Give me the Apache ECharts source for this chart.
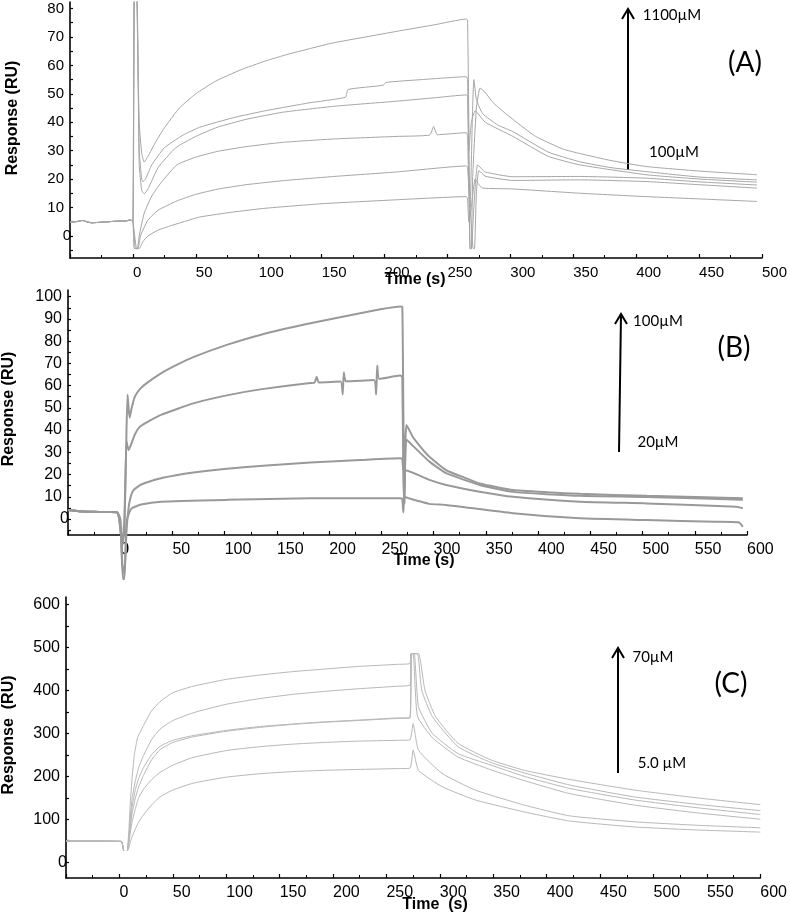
<!DOCTYPE html>
<html><head><meta charset="utf-8">
<script src="https://cdn.jsdelivr.net/npm/echarts@6/dist/echarts.min.js"></script>
<style>html,body{margin:0;padding:0;background:#fff}#c{width:790px;height:916px}</style>
</head><body><div id="c"></div>
<script>
// ---------- tick labels ----------
const yLabelsA = [0,10,20,30,40,50,60,70,80];
const yTicksA  = [-5,0,5,10,15,20,25,30,35,40,45,50,55,60,65,70,75,80];
const yLabelsB = [0,10,20,30,40,50,60,70,80,90,100];
const yTicksB  = [-5,0,5,10,15,20,25,30,35,40,45,50,55,60,65,70,75,80,85,90,95,100];
const yLabelsC = [0,100,200,300,400,500,600];
const yTicksC  = [0,50,100,150,200,250,300,350,400,450,500,550,600];
const xLabelsA = [0,50,100,150,200,250,300,350,400,450,500];
const xLabelsBC = [0,50,100,150,200,250,300,350,400,450,500,550,600];

// ---------- Panel A (100–1100 µM) ----------
const baseA = [[-50,4.9],[-45,5.0],[-40,5.4],[-37,5.0],[-33,4.6],[-25,4.8],[-15,5.1],[-5,5.3],[-2,5.6]];
const a1 = [[0,5],[1,90],[2.5,90],[5,40],[7,29],[9,26],[12,28],[18,33],[25,38],[37,45],[50,50],[66,54.5],[85,58.3],[105,61.5],[124,64],[158,67.8],[185,70],[210,72],[240,74.3],[265,76.3],[266,76],[267,40],[268,-4.5],[269,-4.5],[270,20],[273,45],[276,52],[280,50.5],[286,47],[295,43.5],[302,41],[320,35],[342,30.5],[355,29],[380,26.5],[408,24.4],[450,22.8],[496,21.5]];
const a2 = [[0,5],[1,90],[3,90],[5,30],[7,20],[8,19],[10,20],[15,25],[25,31],[40,35.5],[53,38.2],[80,41.6],[105,44],[140,46.8],[169,48.8],[171,51.5],[199,53],[201,54],[230,55],[265,56],[266,55],[267,25],[268,10],[270,45],[271,55],[273,48],[278,43],[290,39],[302,36.7],[330,29.5],[355,26.1],[380,24],[408,22.6],[450,20.7],[496,19.7]];
const a3 = [[0,5],[1.5,90],[3,90],[5,25],[7,16],[9,14.8],[12,16.5],[20,24],[34,31],[50,35],[67,38.2],[90,41],[119,43.5],[160,45.6],[210,47.4],[240,48.6],[265,49.6],[266,49],[267,30],[269,40],[272,44],[280,40],[302,35],[330,28],[355,25],[408,21.5],[450,20],[496,18.9]];
const a4 = [[0,5],[1,-4.5],[3.5,-4.5],[5,0],[9,8],[15,14],[22,18.5],[35,25],[50,27.7],[67,29.7],[90,31.4],[119,32.9],[160,34.1],[210,35],[236,35.5],[239,38.5],[242,35.6],[265,36.3],[266,35],[267,15],[268,-4.5],[269,-4.5],[271,10],[274,25],[280,22.5],[302,20.8],[355,20.9],[408,20.3],[450,19],[496,17.9]];
const a5 = [[0,5],[2,-4.5],[4,-4.5],[6,0],[9,3],[12,5.6],[20,9],[35,12.3],[50,14.6],[67,16.4],[90,18],[119,19.4],[160,20.9],[210,22.5],[265,24.6],[266,24],[268,10],[270.5,-4.5],[271.5,-4.5],[273,15],[275,23],[280,21],[302,19.5],[355,19.7],[408,19.1],[450,18],[496,16.8]];
const a6 = [[0,5],[3,-4.5],[5,-4.5],[8,-2],[12,0],[20,2],[29,3.4],[53,6.6],[80,8.4],[105,9.7],[150,11.3],[210,12.7],[265,13.8],[266,13],[267,5],[269,10],[272,20],[275,18],[278,16.8],[302,16.5],[355,15],[408,13.8],[450,13],[496,12.1]];

// ---------- Panel B (20–100 µM) ----------
const baseB = [[-50,4],[-45,3.8],[-40,3.5],[-30,3.3],[-20,3.2],[-10,3.1],[-3,3]];
const b1 = [[-1,0],[2,-12],[4,-5],[6,40],[7,56],[8,50],[9,45.5],[11,50],[14,55],[19,58.5],[25,61],[39,65.5],[55,69.5],[70,72.8],[102,78.3],[134,82.8],[182,88],[220,91.6],[249,94.3],[268,95.6],[270,95.5],[271,50],[272,7],[273,35],[274,42.3],[280,37],[290,31],[296,28],[312,22],[330,18.5],[344,16],[376,13],[410,12],[440,11.3],[504,10.4],[560,9.8],[596,9.3]];
const b2 = [[-1,0],[2,-10],[4,0],[6,35],[8,31],[10,33],[14,38],[19,41.6],[39,46.8],[70,52],[102,55.6],[134,58.3],[182,61.2],[186,61.3],[188,64],[190,61.4],[211,61.8],[213,56],[214,66],[216,61.9],[243,62.5],[245,56],[246,69],[248,63],[268,64.5],[270,64],[271,20],[272,7],[273,30],[274,35.6],[280,33],[296,25.8],[312,20.6],[344,15.3],[376,12.2],[440,10.4],[504,9.9],[596,8.6]];
const b3 = [[0,0],[2.5,-27],[4,-27],[6,-5],[8,5],[10,10],[12.7,13],[20,15.5],[39,18.3],[60,20.2],[70,20.9],[102,22.6],[140,24.1],[182,25.4],[230,26.5],[268,27.3],[270,27],[271,22],[272,22],[296,17.6],[312,15.3],[344,12.3],[376,10],[440,7.8],[504,7],[590,5.5],[596,4.8]];
const b4 = [[0,0],[2,-20],[4,-25],[6,-2],[8,2],[11,4.8],[20,6.5],[39,7.8],[102,8.6],[182,9.3],[268,9.3],[270,9],[271,3],[272,10],[275,9.5],[296,6.8],[312,6.3],[376,2.6],[440,0.3],[504,-0.5],[570,-1.2],[592,-1.5],[596,-3.5]];

// ---------- Panel C (5.0–70 µM) ----------
const baseC = [[-50,49],[-20,49],[0,48.5],[2,48],[3,40],[4,26],[5,null]];
const c1 = [[7.5,26],[9,80],[10,130],[12,200],[14,250],[17,290],[22.5,318],[30,352],[38,374],[50,395],[69,410],[100,426],[131,436],[162,444],[192,450],[223,456],[260,461],[272,463],[273,486],[280,486],[286,401],[296,339],[317,277],[348,238],[379,214],[421,193],[482,168],[540,150],[600,134]];
const c2 = [[7.5,26],[9,60],[10,100],[12,150],[15,190],[18,220],[22.5,248],[30,285],[38,310],[50,330],[69,348],[100,368],[131,381],[162,391],[192,398],[223,404],[260,410],[272,413],[273.5,486],[279,486],[283,401],[293,339],[317,269],[348,232],[379,208],[421,180],[482,152],[540,135],[600,120]];
const c3 = [[7.5,26],[9,55],[10,85],[12,130],[15,170],[18,195],[22.5,220],[30,250],[38,270],[50,284],[69,295],[100,307],[131,316],[162,322],[192,327],[223,331],[260,336],[272,337],[273.5,486],[276,486],[280,362],[293,300],[317,253],[348,226],[379,200],[421,172],[482,145],[540,127],[600,111]];
const c4 = [[7.5,26],[9,50],[10,75],[12,115],[15,150],[18,175],[22.5,202],[30,238],[38,262],[50,279],[69,292],[100,305],[131,314],[162,321],[192,326],[223,330],[260,335],[272,336],[273,486],[275,486],[279,340],[293,290],[317,245],[348,215],[379,190],[421,160],[482,133],[540,115],[600,100]];
const c5 = [[7.5,26],[9,45],[10,65],[12,95],[15,125],[18,150],[22.5,170],[30,192],[38,209],[50,226],[69,244],[100,260],[131,269],[162,275],[192,279],[223,282],[260,284],[272,285],[275,323],[280,261],[302,207],[333,168],[379,133],[421,108],[482,94],[540,86],[600,80]];
const c6 = [[7.5,26],[9,35],[10,45],[12,60],[15,78],[18,93],[22.5,110],[30,133],[38,152],[50,168],[69,184],[100,198],[131,206],[162,211],[192,214],[223,216],[260,218],[272,219],[275,261],[280,214],[302,176],[333,145],[379,117],[421,96],[482,82],[540,75],[600,70]];

// ---------- build ----------
const FONT = '"Liberation Sans", Arial, sans-serif';
const ANN = 'Lato, "Open Sans", sans-serif';
function xAx(idx, max, fs, labels){
  return {type:'value', gridIndex:idx, min:-50, max:max, interval:50,
    axisLine:{show:true,onZero:false,lineStyle:{color:'#000',width:1.6}},
    axisTick:{show:true,inside:true,length:4,lineStyle:{color:'#000',width:1.2}},
    minorTick:{show:true,splitNumber:2,length:3,lineStyle:{color:'#000',width:1}},
    splitLine:{show:false}, minorSplitLine:{show:false},
    axisLabel:{show:true, customValues:labels, align:'left', margin:7, color:'#000', fontFamily:FONT, fontSize:fs, hideOverlap:false}};
}
function yAx(idx, min, max, fs, labels, ticks){
  return {type:'value', gridIndex:idx, min:min, max:max,
    axisLine:{show:true,onZero:false,lineStyle:{color:'#000',width:1.6}},
    axisTick:{show:true,inside:true,length:3,customValues:ticks,lineStyle:{color:'#000',width:1.2}},
    splitLine:{show:false},
    axisLabel:{show:true, customValues:labels, margin:6, color:'#000', fontFamily:FONT, fontSize:fs,
      formatter:function(v){ return v===0 ? '{z|0}' : String(v); },
      rich:{z:{fontFamily:FONT,fontSize:fs,color:'#000',padding:[0,-7,0,0]}}}};
}
function ser(idx, data, color, width, clip){
  return {type:'line', xAxisIndex:idx, yAxisIndex:idx, data:data, showSymbol:false, symbol:'none',
    smooth:0.15, connectNulls:false, clip:clip, silent:true, animation:false,
    lineStyle:{color:color,width:width}};
}
const cA = '#a6a6a6', cB = '#999999', cC = '#b8b8b8';
const series = [];
[a1,a2,a3,a4,a5,a6].forEach(d=>series.push(ser(0, baseA.concat(d), cA, 1, true)));
[b1,b2,b3,b4].forEach(d=>series.push(ser(1, baseB.concat(d), cB, 2, false)));
[c1,c2,c3,c4,c5,c6].forEach(d=>series.push(ser(2, baseC.concat(d), cC, 1, true)));

function txt(x,y,text,size,font,weight,rot){
  return {type:'text', x:x, y:y, rotation:rot||0, silent:true,
    style:{text:text, fill:'#000', font:(weight||'normal')+' '+size+'px '+font, align:'center', verticalAlign:'middle'}};
}
function arrow(xb,yb,xt,yt){
  return [
    {type:'line', silent:true, shape:{x1:xb,y1:yb,x2:xt,y2:yt}, style:{stroke:'#000',lineWidth:2}},
    {type:'polyline', silent:true, shape:{points:[[xt-6,yt+10],[xt,yt],[xt+6,yt+10]]}, style:{stroke:'#000',lineWidth:2,fill:null}}
  ];
}
const graphic = [].concat(
  [txt(13,118,'Response (RU)',16,FONT,'bold',Math.PI/2),
   txt(9,409,'Response (RU)',16,FONT,'bold',Math.PI/2),
   txt(9,735,'Response  (RU)',16,FONT,'bold',Math.PI/2),
   txt(415,280,'Time (s)',16,FONT,'bold'),
   txt(424,561,'Time (s)',16,FONT,'bold'),
   txt(435,905,'Time  (s)',16,FONT,'bold'),
   txt(672,15,'1100µM',15,ANN),
   txt(674,152,'100µM',15,ANN),
   txt(745,63,'(A)',28,ANN),
   txt(658,321,'100µM',15,ANN),
   txt(658,442,'20µM',15,ANN),
   txt(734,348,'(B)',28,ANN),
   txt(653,657,'70µM',15,ANN),
   txt(662,763,'5.0 µM',15,ANN),
   txt(731,684,'(C)',28,ANN)],
  arrow(628,170,628,9),
  arrow(619,452,621,314),
  arrow(618,773,618,648)
);

const option = {
  backgroundColor:'#fff', animation:false,
  grid:[
    {left:70, top:2, width:697, height:256},
    {left:68, top:290, width:679, height:245},
    {left:66, top:597, width:701, height:281}
  ],
  xAxis:[xAx(0,500,15,xLabelsA), xAx(1,600,16,xLabelsBC), xAx(2,600,16,xLabelsBC)],
  yAxis:[yAx(0,-7.8,82.3,15,yLabelsA,yTicksA), yAx(1,-7.2,103,16,yLabelsB,yTicksB), yAx(2,-37,618,16,yLabelsC,yTicksC)],
  series:series,
  graphic:graphic
};
const chart = echarts.init(document.getElementById('c'), null, {renderer:'canvas'});
chart.setOption(option);
</script></body></html>
